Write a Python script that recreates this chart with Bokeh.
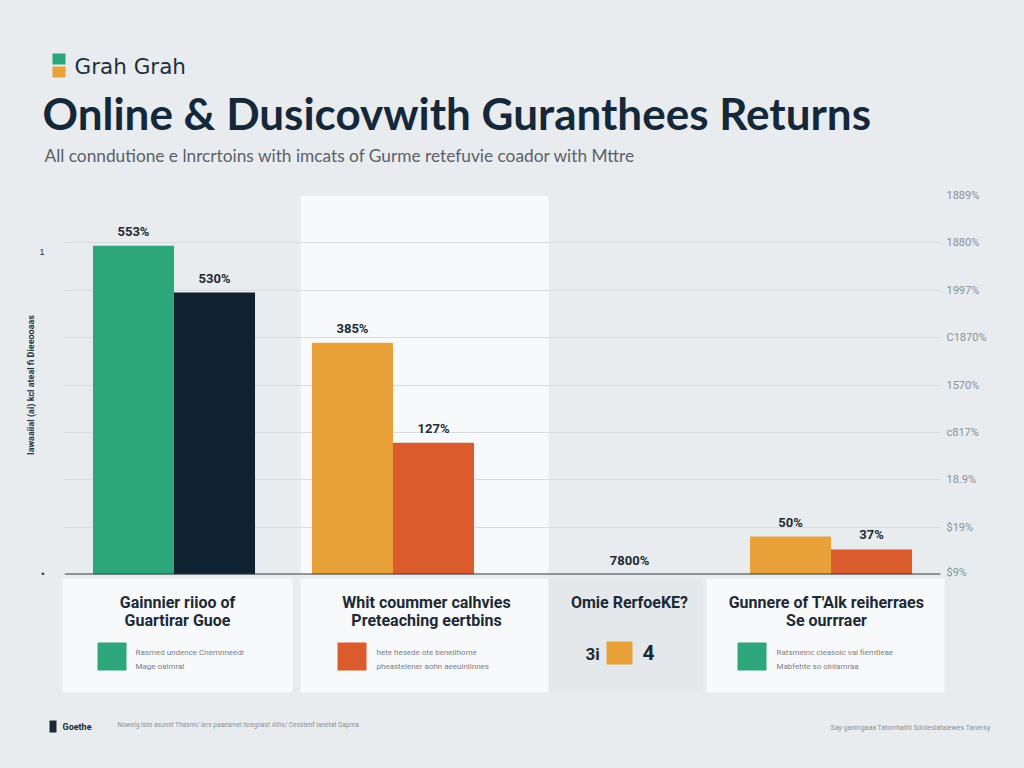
from bokeh.plotting import figure
from bokeh.models import (ColumnDataSource, Range1d, FactorRange, FixedTicker,
                          LinearAxis, Span, BoxAnnotation)
from bokeh.transform import dodge
from bokeh.layouts import column
from bokeh.core.properties import value
from bokeh.embed import file_html
from bokeh.resources import INLINE

# ---------------- data ----------------
groups = ["Gainnier", "Whit", "Omie", "Gunnere"]
series_a = [69.4, 48.9, 0.0, 8.0]
series_b = [59.5, 27.8, 0.0, 5.3]
labels_a = ["553%", "385%", "", "50%"]
labels_b = ["530%", "127%", "", "37%"]
group_notes = ["", "", "7800%", ""]
y_ticks = [0, 10, 20, 30, 40, 50, 60, 70, 80]
y_tick_labels = ["$9%", "$19%", "18.9%", "c817%", "1570%", "C1870%", "1997%", "1880%", "1889%"]
left_ticks = [0, 68]
left_tick_labels = ["•", "1"]

title_top = "Grah Grah"
title_main = "Online & Dusicovwith Guranthees Returns"
subtitle = "All conndutione e lnrcrtoins with imcats of Gurme retefuvie coador with Mttre"
y_label = "Iawaaiial (ai) kcl ateal fi Dieeooaas"

card_titles = [["Gainnier riioo of", "Guartirar Guoe"],
               ["Whit coummer calhvies", "Preteaching eertbins"],
               ["Omie RerfoeKE?", ""],
               ["Gunnere of T'Alk reiherraes", "Se ourrraer"]]
card_notes = [["Rasmed undence Cnemnneedr", "Mage oalmral"],
              ["hete hesede ote beneilhome", "pheastelener aohn aeeuinlinnes"],
              ["", ""],
              ["Ratsmeinc cleasoic vai fiemtleae", "Mabfehte so olnlamraa"]]
footer_left_title = "Goethe"
footer_left = "Nowelg lsiis asunst Thasmi/ lers paaeamel lsregnast Atlis/ Cesstenf Ianetat Gapma"
footer_right = "Say ganingaaa Tatorrhathl Sdoleslatalewes Tanersy"

# ---------------- style ----------------
BG = "#e9ecef"
CARD = "#f8f9fa"
GREEN = "#2ea67c"
NAVY = "#0f2231"
ORANGE = "#e9a23a"
RED = "#dc5b2d"
DARK = "#15283a"
colors_a = [GREEN, ORANGE, ORANGE, ORANGE]
colors_b = [NAVY, RED, RED, RED]
W = 1008


def blank(h):
    f = figure(width=W, height=h, x_range=Range1d(0, W), y_range=Range1d(h, 0),
               toolbar_location=None, output_backend="svg", min_border=0,
               x_axis_location=None, y_axis_location=None, frame_align=False,
               background_fill_color=BG, border_fill_color=BG, outline_line_color=None,
               styles={"background-color": BG})
    f.grid.visible = False
    return f

# ---------------- header ----------------
ph = blank(188)
ph.quad(left=[52], right=[65], top=[53], bottom=[64], fill_color=GREEN, line_color=None)
ph.quad(left=[52], right=[65], top=[66], bottom=[77], fill_color=ORANGE, line_color=None)
ph.text(x=[74], y=[66], text=[title_top], text_font=value("DejaVu Sans"), text_font_size="21.5px",
        text_color="#1f2f3a", text_baseline="middle", text_align="left")
ph.text(x=[42], y=[112], text=[title_main], text_font=value("Lato"), text_font_size="44px",
        text_font_style="bold", text_color=DARK, text_baseline="middle", text_align="left")
ph.text(x=[44], y=[155], text=[subtitle], text_font=value("Lato"), text_font_size="17.3px",
        text_color="#5a6169", text_baseline="middle", text_align="left")

# ---------------- chart ----------------
src = ColumnDataSource(dict(g=groups, a=series_a, b=series_b, la=labels_a, lb=labels_b,
                            ca=colors_a, cb=colors_b, note=group_notes,
                            zero=[0] * len(groups)))
pc = figure(width=W, height=390, x_range=FactorRange(factors=groups), y_range=Range1d(0, 80),
            toolbar_location=None, output_backend="svg", frame_align=False,
            x_axis_location=None, y_axis_location="right",
            min_border_left=64, min_border_right=68, min_border_top=7, min_border_bottom=4,
            background_fill_color=BG, border_fill_color=BG, outline_line_color=None,
            styles={"background-color": BG})
pc.xgrid.visible = False
pc.ygrid.ticker = FixedTicker(ticks=y_ticks)
pc.ygrid.grid_line_color = "#d8dcdf"
pc.ygrid.grid_line_width = 1

panel = BoxAnnotation(left=1.078, right=2.21, fill_color=CARD, fill_alpha=1,
                      line_color=None, level="image")
pc.add_layout(panel)

ra = pc.yaxis[0]
ra.ticker = FixedTicker(ticks=y_ticks)
ra.major_label_overrides = {t: l for t, l in zip(y_ticks, y_tick_labels)}
ra.axis_line_color = None
ra.major_tick_line_color = None
ra.minor_tick_line_color = None
ra.major_label_text_font_size = "11px"
ra.major_label_text_color = "#8a9096"
ra.major_label_text_font = "Roboto"
ra.major_label_standoff = 0

la = LinearAxis(ticker=FixedTicker(ticks=left_ticks),
                major_label_overrides={t: l for t, l in zip(left_ticks, left_tick_labels)},
                axis_label=y_label, axis_line_color=None, major_tick_line_color=None,
                minor_tick_line_color=None, major_label_text_font_size="9px",
                major_label_text_color="#333", major_label_standoff=14,
                axis_label_text_font_size="9px", axis_label_text_font_style="bold",
                axis_label_text_color="#2a3640", axis_label_standoff=0,
                axis_label_text_font="Roboto")
pc.add_layout(la, "left")

pc.vbar(x=dodge("g", -0.185, range=pc.x_range), top="a", width=0.37, source=src,
        fill_color="ca", line_color=None)
pc.vbar(x=dodge("g", 0.185, range=pc.x_range), top="b", width=0.37, source=src,
        fill_color="cb", line_color=None)
pc.text(x=dodge("g", -0.185, range=pc.x_range), y="a", text="la", source=src, y_offset=-7,
        text_align="center", text_baseline="bottom", text_font=value("Roboto"),
        text_font_style="bold", text_font_size="13px", text_color="#1d2b36")
pc.text(x=dodge("g", 0.185, range=pc.x_range), y="b", text="lb", source=src, y_offset=-7,
        text_align="center", text_baseline="bottom", text_font=value("Roboto"),
        text_font_style="bold", text_font_size="13px", text_color="#1d2b36")
pc.text(x=dodge("g", 0.08, range=pc.x_range), y="zero", text="note", source=src, y_offset=-7,
        text_align="center", text_baseline="bottom", text_font=value("Roboto"),
        text_font_style="bold", text_font_size="13px", text_color="#1d2b36")
pc.add_layout(Span(location=0, dimension="width", line_color="#2f3a42", line_width=2))

# ---------------- cards ----------------
pk = blank(174)
pk.quad(left=[62, 300, 548, 706], right=[292, 548, 702, 944], top=[0, 0, 0, 0],
        bottom=[114, 114, 114, 114], fill_color=[CARD, CARD, "#e5e8eb", CARD], line_color=None)
centers = [177, 426, 629, 826]
for c, t in zip(centers, card_titles):
    pk.text(x=[c, c], y=[24, 42], text=t, text_font=value("Roboto"), text_font_style="bold",
            text_font_size="16px", text_color="#1c2a36", text_align="center",
            text_baseline="middle")
sw_left = [97, 337, 737]
sw_col = [GREEN, RED, GREEN]
pk.quad(left=sw_left, right=[s + 29 for s in sw_left], top=[64] * 3, bottom=[92] * 3,
        fill_color=sw_col, line_color=None)
for x0, n in zip([135, 376, None, 776], card_notes):
    if x0 is None:
        continue
    pk.text(x=[x0, x0], y=[74, 88], text=n, text_font=value("Roboto"), text_font_size="8px",
            text_color="#7a8086", text_align="left", text_baseline="middle")
pk.quad(left=[606], right=[632], top=[63], bottom=[86], fill_color=ORANGE, line_color=None)
pk.text(x=[585], y=[75], text=["3i"], text_font=value("Roboto"), text_font_style="bold",
        text_font_size="17px", text_color="#1c2a36", text_align="left", text_baseline="middle")
pk.text(x=[642], y=[74], text=["4"], text_font=value("Roboto"), text_font_style="bold",
        text_font_size="21px", text_color="#1c2a36", text_align="left", text_baseline="middle")

pk.quad(left=[49], right=[56], top=[142], bottom=[154], fill_color="#1c2a36", line_color=None)
pk.text(x=[62], y=[148], text=[footer_left_title], text_font=value("Roboto"),
        text_font_style="bold", text_font_size="9px", text_color="#1c2a36",
        text_align="left", text_baseline="middle")
pk.text(x=[117], y=[146], text=[footer_left], text_font=value("Roboto"), text_font_size="6.5px",
        text_color="#8a9096", text_align="left", text_baseline="middle")
pk.text(x=[990], y=[149], text=[footer_right], text_font=value("Roboto"), text_font_size="7px",
        text_color="#8a9096", text_align="right", text_baseline="middle")

layout = column(ph, pc, pk, spacing=0, styles={"background-color": BG})
html = file_html(layout, INLINE)
html = html.replace("<body>", '<body style="background:%s;">' % BG, 1)
html = html.replace("<html", '<html style="background:%s;"' % BG, 1)
open("out.html", "w").write(html)
